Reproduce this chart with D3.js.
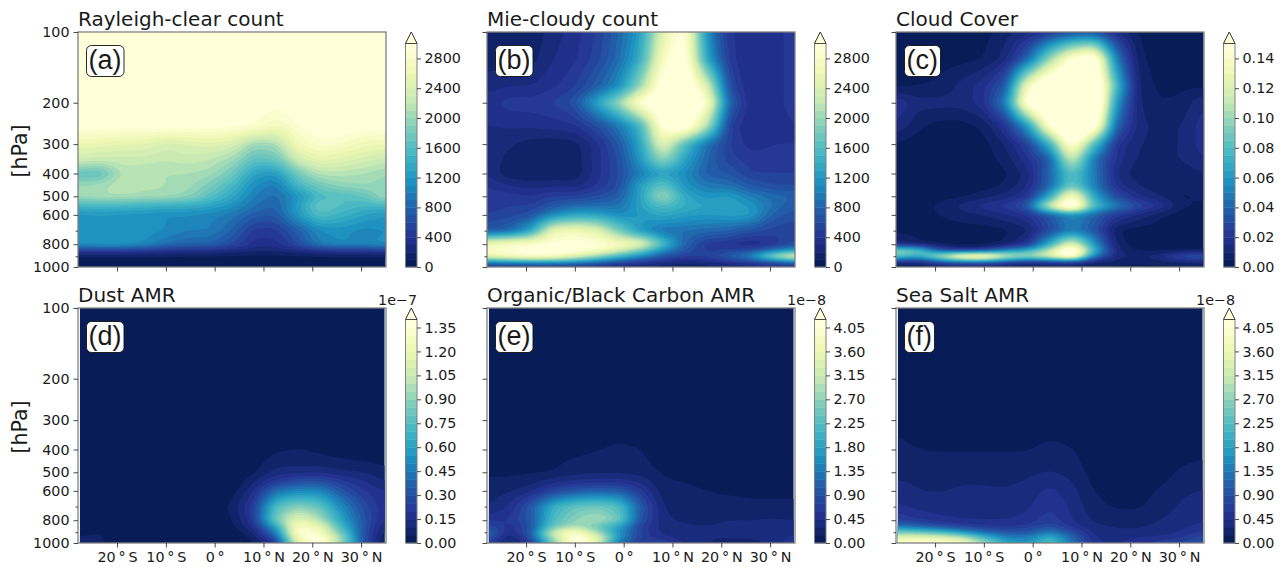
<!DOCTYPE html>
<html>
<head>
<meta charset="utf-8">
<script src="https://cdn.jsdelivr.net/npm/d3@7"></script>
<style>
body { margin: 0; background: #fff; }
text { font-family: "DejaVu Sans"; fill: #1a1a1a; }
</style>
</head>
<body>
<svg id="fig" width="1284" height="567"></svg>
<script>
// grid the fields were read on, latitude in degrees, pressure in hPa
var lats = [-28, -23.5, -19, -14.5, -10, -5.5, -1, 3.5, 8, 12.5, 17, 21.5, 26, 30.5, 35];
var latsAer = [-27.6, -23.5, -19, -14.5, -10, -5.5, -1, 3.5, 8, 12.5, 17, 21.5, 26, 30.5, 34.8];
var levels = [100, 130, 170, 200, 250, 300, 350, 400, 450, 500, 550, 600, 700, 800, 850, 900, 950, 1000];
var zeroRow = [0, 0, 0, 0, 0, 0, 0, 0, 0, 0, 0, 0, 0, 0, 0];

var rayleigh = [
[3100,3100,3100,3100,3100,3100,3100,3100,3100,3100,3100,3100,3100,3100,3100],
[3100,3100,3100,3100,3100,3100,3100,3100,3100,3100,3100,3100,3100,3100,3100],
[3100,3100,3100,3100,3100,3100,3100,3100,3100,3100,3100,3100,3100,3100,3100],
[3100,3100,3100,3100,3100,3100,3100,3100,3050,2950,3100,3100,3100,3100,3100],
[3000,3000,3000,3000,3000,3000,3000,2950,2900,2700,2900,3050,3050,3000,3000],
[2600,2550,2500,2500,2350,2400,2450,2400,2000,2050,2700,2850,2800,2650,2600],
[2300,2250,2250,2250,2200,2250,2200,2050,1650,1700,2300,2550,2450,2350,2250],
[1700,1650,2150,2100,2100,2100,2050,1800,1300,1200,1800,2150,2150,2100,2000],
[2000,2050,2200,2150,2100,2050,1850,1550,1100,950,1500,1800,1950,2000,1950],
[2050,2100,2100,2050,2050,1950,1650,1350,1000,850,1150,1550,1600,1700,2050],
[1500,1500,1500,1450,1400,1400,1300,1150,900,780,1250,1750,1600,1500,1500],
[1150,1200,1150,1150,1100,1100,1050,950,750,700,1200,1600,1450,1300,1200],
[1150,1150,1200,1150,1100,1000,1000,800,450,450,750,1100,1150,1050,1100],
[1150,1200,1200,1100,900,800,800,600,350,350,600,1000,1100,1050,1150],
[500,500,500,450,400,350,350,300,220,220,300,400,450,450,500],
[80,80,80,80,80,70,70,60,60,60,60,70,80,80,80],
[40,40,40,40,40,40,40,40,40,40,40,40,40,40,40],
[40,40,40,40,40,40,40,40,40,40,40,40,40,40,40]
];

var mie = [
[150,130,120,250,350,500,800,1250,2500,3100,1100,400,350,350,450],
[150,150,150,300,380,550,850,1400,2800,3200,1300,450,280,350,450],
[250,300,300,380,480,750,1100,2000,3200,3300,2500,600,280,350,450],
[350,450,450,500,650,1300,2000,3000,3300,3300,3000,800,300,350,450],
[300,320,320,350,380,600,950,1500,3100,3300,2200,500,300,350,400],
[200,220,150,130,150,350,700,1300,2600,1600,900,500,350,400,400],
[250,180,130,120,130,350,600,1200,2000,1300,800,550,450,450,420],
[300,120,100,110,120,350,600,1000,1300,1100,750,700,500,500,500],
[400,300,250,280,250,400,600,1300,1700,1150,950,900,700,600,600],
[450,450,400,500,500,600,750,1300,2100,1350,1150,1250,1000,850,800],
[450,500,500,700,850,900,900,1300,1600,1400,1300,1300,1200,900,700],
[500,550,650,1100,1350,1300,1100,1200,1350,1250,1200,1250,1250,750,650],
[700,800,1300,2600,2700,2500,1800,1200,900,900,850,800,650,550,500],
[2700,2850,2900,3000,3000,3000,2800,2600,1600,800,450,380,280,400,650],
[2800,2900,3000,3050,3000,2800,2400,1800,1100,700,450,500,600,900,1200],
[2600,2800,3000,2900,2500,2000,1500,1100,700,500,550,800,1100,2100,2850],
[1100,1200,1300,1300,1200,1000,700,500,350,250,300,400,500,700,900],
[300,250,250,250,200,150,100,100,80,80,100,150,200,250,300]
];

var cloud = [
[.002,.002,.002,.002,.003,.008,.012,.02,.03,.03,.015,.004,.002,.002,.002],
[.002,.002,.003,.003,.005,.012,.04,.10,.15,.17,.05,.006,.003,.002,.002],
[.004,.005,.006,.012,.018,.035,.14,.18,.19,.19,.08,.008,.004,.004,.004],
[.02,.012,.012,.012,.018,.05,.16,.19,.20,.20,.06,.01,.005,.006,.015],
[.015,.006,.003,.003,.006,.02,.06,.15,.20,.17,.04,.012,.008,.01,.018],
[.004,.002,.001,.001,.003,.01,.025,.07,.16,.08,.02,.01,.009,.01,.018],
[.003,.001,.001,.001,.002,.007,.018,.035,.12,.045,.018,.009,.009,.01,.015],
[.003,.001,.001,.001,.001,.004,.012,.04,.085,.05,.014,.007,.006,.006,.01],
[.003,.001,.001,.001,.002,.006,.014,.04,.09,.05,.018,.01,.006,.006,.008],
[.002,.002,.003,.004,.008,.012,.02,.065,.15,.065,.03,.016,.01,.004,.006],
[.002,.003,.006,.012,.018,.022,.035,.12,.18,.08,.05,.03,.02,.006,.004],
[.002,.003,.005,.008,.01,.014,.02,.035,.055,.04,.022,.014,.006,.002,.002],
[.004,.003,.002,.002,.002,.004,.008,.03,.05,.035,.005,.002,.002,.002,.002],
[.012,.006,.003,.003,.002,.006,.018,.07,.13,.06,.008,.002,.002,.002,.002],
[.10,.09,.03,.015,.02,.05,.07,.11,.18,.075,.012,.004,.003,.002,.004],
[.09,.07,.12,.17,.18,.13,.11,.13,.17,.05,.012,.01,.015,.035,.04],
[.012,.012,.03,.04,.04,.025,.015,.02,.02,.01,.008,.006,.008,.01,.012],
[.003,.003,.003,.003,.003,.003,.003,.003,.003,.003,.003,.003,.003,.003,.003]
];

// x 1e-7
var dust = [
zeroRow, zeroRow, zeroRow, zeroRow, zeroRow, zeroRow, zeroRow,
[0,0,0,0,0,0,0,0,.01,.04,.055,.04,.02,.01,0],
[0,0,0,0,0,0,0,0,.02,.08,.08,.07,.06,.05,.04],
[0,0,0,0,0,0,0,0,.04,.12,.13,.14,.11,.1,.06],
[0,0,0,0,0,0,0,0,.09,.22,.3,.32,.22,.16,.1],
[0,0,0,0,0,0,0,.02,.14,.42,.5,.5,.32,.2,.15],
[0,0,0,0,0,0,0,.06,.22,.75,.9,.8,.5,.28,.16],
[0,0,0,0,0,0,0,.04,.2,.85,1.2,1.0,.6,.32,.14],
[.01,.01,0,0,0,0,0,.03,.15,.6,1.35,1.2,.7,.32,.1],
[.03,.055,0,0,0,0,0,0,.1,.45,1.4,1.3,.8,.3,.07],
[.06,.06,.01,0,0,0,0,0,.06,.3,1.3,1.45,.95,.3,.04],
[.06,.06,.01,0,0,0,0,0,.04,.15,1.15,1.4,.9,.3,.03]
];

// x 1e-8
var carbon = [
zeroRow, zeroRow, zeroRow, zeroRow, zeroRow, zeroRow,
[0,0,0,0,0,.05,.1,.05,0,0,0,0,0,0,0],
[0,0,.02,.05,.1,.14,.2,.16,.03,0,0,0,0,0,0],
[.04,.05,.08,.11,.18,.2,.22,.19,.09,.05,.03,.03,.02,.02,.02],
[.1,.11,.13,.15,.24,.26,.27,.23,.13,.1,.08,.07,.06,.06,.06],
[.2,.2,.25,.4,.5,.55,.55,.42,.17,.15,.13,.1,.09,.09,.09],
[.22,.28,.4,.75,1.0,1.1,1.05,.65,.2,.17,.15,.13,.12,.12,.12],
[.3,.45,1.0,2.0,2.4,2.5,2.3,1.0,.28,.22,.2,.2,.18,.18,.18],
[.6,.6,1.0,2.2,2.7,3.0,2.5,.9,.33,.28,.27,.3,.3,.32,.3],
[.8,.5,.9,2.4,2.9,2.4,1.8,.7,.38,.32,.3,.33,.35,.36,.35],
[1.2,.4,1.0,3.3,4.1,2.9,1.6,.7,.4,.33,.32,.33,.35,.38,.4],
[1.0,.25,.9,3.0,4.3,3.7,1.7,.7,.5,.35,.3,.3,.3,.33,.5],
[.7,.15,.5,2.5,4.4,3.5,1.1,.6,.8,.45,.3,.28,.28,.3,.6]
];

// x 1e-8
var seaSalt = [
zeroRow, zeroRow, zeroRow, zeroRow, zeroRow,
[.06,.05,.05,.05,.05,.05,.05,.06,.04,.02,.01,.01,.02,.03,.04],
[.15,.1,.09,.09,.09,.09,.09,.13,.1,.03,.02,.02,.03,.05,.07],
[.2,.15,.14,.14,.14,.14,.14,.2,.16,.05,.03,.03,.04,.08,.11],
[.23,.2,.19,.19,.19,.19,.2,.26,.2,.07,.04,.04,.06,.13,.16],
[.27,.25,.24,.25,.25,.25,.27,.31,.25,.09,.05,.05,.08,.18,.21],
[.31,.28,.27,.29,.29,.28,.31,.42,.31,.11,.06,.06,.12,.22,.26],
[.38,.3,.29,.32,.32,.31,.36,.5,.36,.14,.08,.08,.17,.27,.31],
[.48,.4,.37,.37,.37,.37,.42,.6,.42,.2,.13,.12,.22,.33,.37],
[.75,.6,.5,.45,.45,.45,.5,.7,.45,.28,.25,.24,.3,.38,.44],
[1.3,1.1,.85,.7,.6,.55,.65,.9,.55,.32,.29,.28,.33,.4,.5],
[2.6,2.5,2.2,1.7,1.2,.95,.95,1.4,.85,.4,.32,.33,.37,.45,.65],
[3.5,3.6,3.5,3.2,2.2,1.5,1.4,2.1,1.2,.45,.38,.45,.5,.6,.85],
[4.2,4.3,4.2,3.9,2.9,1.9,1.7,2.3,1.3,.5,.42,.6,.7,.8,1.0]
];

var panels = [
{title: "Rayleigh-clear count", tag: "(a)", data: rayleigh, lat: lats, top: 3000, step: 100, tick: 400, fmt: 0, col: 0, row: 0},
{title: "Mie-cloudy count", tag: "(b)", data: mie, lat: lats, top: 3000, step: 100, tick: 400, fmt: 0, col: 1, row: 0},
{title: "Cloud Cover", tag: "(c)", data: cloud, lat: lats, top: 0.15, step: 0.005, tick: 0.02, fmt: 2, col: 2, row: 0},
{title: "Dust AMR", tag: "(d)", data: dust, lat: latsAer, top: 1.4, step: 0.05, tick: 0.15, fmt: 2, col: 0, row: 1, offset: "1e\u22127"},
{title: "Organic/Black Carbon AMR", tag: "(e)", data: carbon, lat: latsAer, top: 4.2, step: 0.15, tick: 0.45, fmt: 2, col: 1, row: 1, offset: "1e\u22128"},
{title: "Sea Salt AMR", tag: "(f)", data: seaSalt, lat: latsAer, top: 4.2, step: 0.15, tick: 0.45, fmt: 2, col: 2, row: 1, offset: "1e\u22128"}
];

var latTicks = [-20, -10, 0, 10, 20, 30];
var latLabels = ["20\u2009\u00b0\u2009S", "10\u2009\u00b0\u2009S", "0\u2009\u00b0", "10\u2009\u00b0\u2009N", "20\u2009\u00b0\u2009N", "30\u2009\u00b0\u2009N"];
var majorP = [100, 200, 300, 400, 500, 600, 800, 1000];
var minorP = [700, 900];
var ramp = ["#081d58", "#253494", "#225ea8", "#1d91c0", "#41b6c4", "#7fcdbb", "#c7e9b4", "#edf8b1", "#ffffd9"];

var colX = [78, 487, 896], rowY = [32, 308];
var width = 308, height = 235;
var spine = "#808080";

var svg = d3.select("#fig");
var colorAt = d3.scaleLinear().domain(ramp.map((c, i) => i / (ramp.length - 1))).range(ramp);

// sample the read grid at every pixel so the bands come out smooth, not faceted
function pixelField(p, x, y) {
  var nx = p.lat.length, ny = levels.length;
  var colOf = d3.scaleLinear().domain(p.lat.map(x)).range(d3.range(nx)).clamp(true);
  var rowOf = d3.scaleLinear().domain(levels.map(y)).range(d3.range(ny)).clamp(true);
  var out = new Float64Array(width * height);
  for (var j = 0; j < height; j++) {
    var rf = rowOf(j + 0.5), r0 = Math.min(Math.floor(rf), ny - 2), rt = rf - r0;
    for (var i = 0; i < width; i++) {
      var cf = colOf(i + 0.5), c0 = Math.min(Math.floor(cf), nx - 2), ct = cf - c0;
      var a = p.data[r0][c0] * (1 - ct) + p.data[r0][c0 + 1] * ct;
      var b = p.data[r0 + 1][c0] * (1 - ct) + p.data[r0 + 1][c0 + 1] * ct;
      out[j * width + i] = a * (1 - rt) + b * rt;
    }
  }
  return d3.blur2({data: out, width: width, height: height}, 5, 2).data;
}

function styleTicks(sel) {
  sel.select(".domain").remove();
  sel.selectAll(".tick line").attr("stroke", "#333").attr("stroke-width", 0.9);
  sel.selectAll(".tick text").style("font-size", "14.3px").style("font-family", "DejaVu Sans").style("fill", "#1a1a1a");
}

panels.forEach(function(p, idx) {
  var x0 = colX[p.col], y0 = rowY[p.row];
  var g = svg.append("g").attr("transform", `translate(${x0},${y0})`);

  var x = d3.scaleLinear().domain([-28, 35.1]).range([0, width]);
  var y = d3.scaleLog().domain([100, 1000]).range([0, height]);

  // band edges, contourf style
  var nBands = Math.round(p.top / p.step);
  var edges = d3.range(nBands + 1).map(i => i * p.step);
  var bandColor = i => colorAt(i / (nBands - 1));

  var nx = p.lat.length;
  var contours = d3.contours().size([width, height]).thresholds(edges.slice(1))(pixelField(p, x, y));
  var path = d3.geoPath();

  g.append("clipPath").attr("id", "clip" + idx).append("rect")
    .attr("x", x(p.lat[0])).attr("y", 0)
    .attr("width", x(p.lat[nx - 1]) - x(p.lat[0])).attr("height", height);

  var field = g.append("g").attr("clip-path", `url(#clip${idx})`);
  field.append("rect").attr("width", width).attr("height", height).attr("fill", bandColor(0));
  field.selectAll("path")
    .data(contours)
    .join("path")
    .attr("d", path)
    .attr("fill", (d, i) => i + 1 >= nBands ? ramp[8] : bandColor(i + 1));

  // frame
  g.append("rect").attr("width", width).attr("height", height)
    .attr("fill", "none").attr("stroke", spine).attr("stroke-width", 1.3);

  // axes
  g.append("g").attr("transform", `translate(0,${height})`)
    .call(d3.axisBottom(x).tickValues(latTicks).tickSize(4.5).tickPadding(4)
      .tickFormat((d, i) => p.row == 1 ? latLabels[i] : ""))
    .call(styleTicks);

  g.append("g")
    .call(d3.axisLeft(y).tickValues(majorP).tickSize(4.5).tickPadding(4)
      .tickFormat(d => p.col == 0 ? d : ""))
    .call(styleTicks);
  g.append("g")
    .call(d3.axisLeft(y).tickValues(minorP).tickSize(2.5).tickFormat(""))
    .call(styleTicks);

  g.append("text").attr("x", 0).attr("y", -6).attr("font-size", 20).text(p.title);

  if (p.col == 0) {
    g.append("text")
      .attr("transform", `translate(${-51.5},${height / 2 + 1.5}) rotate(-90)`)
      .attr("text-anchor", "middle").attr("font-size", 20.5)
      .text("[hPa]");
  }

  // panel letter
  var box = g.append("rect").attr("fill", "#fff").attr("stroke", "#111").attr("stroke-width", 0.9).attr("rx", 5);
  var tag = g.append("text").attr("x", 10.5).attr("y", 37)
    .attr("font-size", 27).style("font-family", "'Liberation Sans'").text(p.tag);
  var tw = tag.node().getComputedTextLength();
  box.attr("x", 8.5).attr("y", 13.5).attr("width", tw + 4.5).attr("height", 31);

  // colorbar
  var cbX = width + 19.5, cbW = 11.5;
  var cbY = d3.scaleLinear().domain([0, p.top]).range([height, 11.5]);
  var cb = g.append("g").attr("transform", `translate(${cbX},0)`);
  cb.selectAll("rect")
    .data(d3.range(nBands))
    .join("rect")
    .attr("x", 0).attr("width", cbW)
    .attr("y", i => cbY(edges[i + 1]))
    .attr("height", i => cbY(edges[i]) - cbY(edges[i + 1]) + 0.4)
    .attr("fill", i => bandColor(i));
  cb.append("path")
    .attr("d", d3.line()([[0, height], [0, cbY(p.top)], [cbW / 2, 0], [cbW, cbY(p.top)], [cbW, height]]) + "Z")
    .attr("fill", "none").attr("stroke", spine).attr("stroke-width", 1);
  cb.append("path")
    .attr("d", d3.line()([[0, cbY(p.top)], [cbW / 2, 0], [cbW, cbY(p.top)]]) + "Z")
    .attr("fill", ramp[8]).attr("stroke", "#333").attr("stroke-width", 0.9);

  var cbTicks = d3.range(0, Math.floor(p.top / p.tick + 1e-6) + 1).map(i => i * p.tick)
    .filter(v => v < p.top - 1e-6);
  cb.append("g").attr("transform", `translate(${cbW},0)`)
    .call(d3.axisRight(cbY).tickValues(cbTicks).tickSize(4).tickPadding(3.5)
      .tickFormat(d => d.toFixed(p.fmt)))
    .call(styleTicks);

  if (p.offset) {
    cb.append("text").attr("x", cbW).attr("y", -3).attr("text-anchor", "end")
      .attr("font-size", 14.3).text(p.offset);
  }
});
</script>
</body>
</html>
